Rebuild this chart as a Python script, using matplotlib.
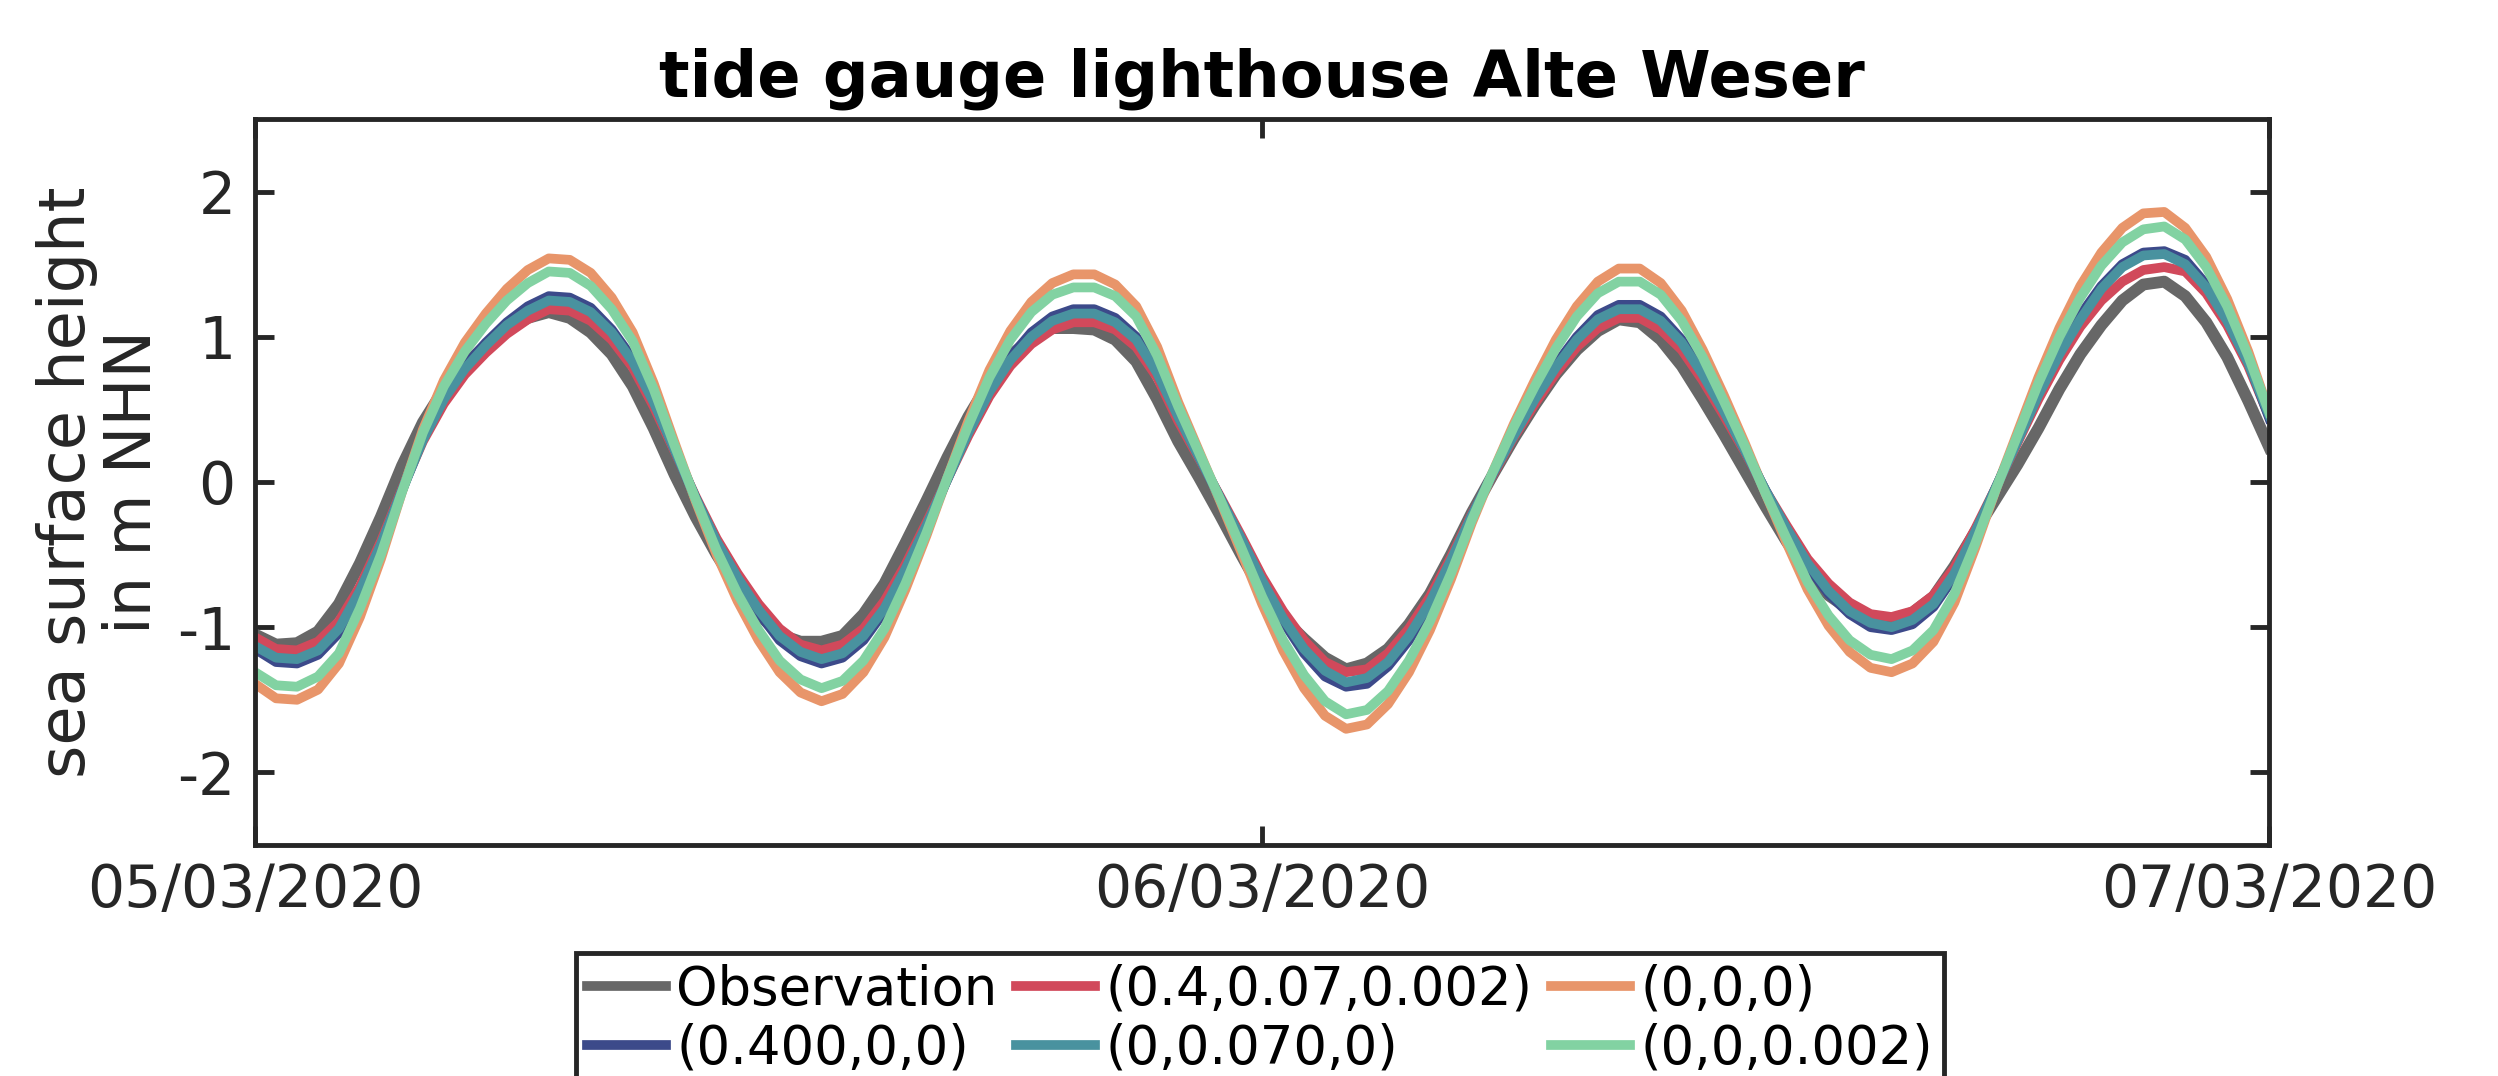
import numpy as np
import pandas as pd
import matplotlib
matplotlib.use("Agg")
import matplotlib.pyplot as plt
import matplotlib.dates as mdates

plt.rcParams['font.family'] = ['DejaVu Sans']
plt.rcParams['axes.unicode_minus'] = False

# half-hourly values, 05/03/2020 00:00 .. 07/03/2020 00:00
times = pd.date_range('2020-03-05 00:00', '2020-03-07 00:00', freq='30min')

observation = [-1.05, -1.12, -1.11, -1.03, -0.84, -0.56, -0.24, 0.11, 0.41, 0.64,
               0.81, 0.94, 1.05, 1.13, 1.17, 1.13, 1.03, 0.88, 0.66, 0.37,
               0.05, -0.24, -0.50, -0.73, -0.91, -1.05, -1.10, -1.10, -1.06, -0.91,
               -0.70, -0.42, -0.13, 0.17, 0.45, 0.69, 0.87, 0.99, 1.06, 1.06,
               1.05, 0.98, 0.83, 0.57, 0.28, 0.03, -0.23, -0.50, -0.76, -0.94,
               -1.08, -1.21, -1.29, -1.25, -1.15, -0.98, -0.77, -0.50, -0.21, 0.05,
               0.30, 0.53, 0.74, 0.91, 1.04, 1.12, 1.10, 0.98, 0.80, 0.57,
               0.33, 0.08, -0.17, -0.41, -0.62, -0.78, -0.88, -0.93, -0.95, -0.90,
               -0.79, -0.58, -0.34, -0.11, 0.12, 0.37, 0.64, 0.88, 1.08, 1.25,
               1.36, 1.38, 1.28, 1.10, 0.86, 0.56, 0.24]
run_all = [-1.07, -1.15, -1.16, -1.10, -0.96, -0.72, -0.41, -0.05, 0.28, 0.54,
           0.74, 0.89, 1.02, 1.12, 1.19, 1.18, 1.11, 0.98, 0.79, 0.52,
           0.21, -0.10, -0.39, -0.63, -0.84, -1.01, -1.12, -1.16, -1.12, -1.01,
           -0.82, -0.57, -0.28, 0.02, 0.32, 0.59, 0.80, 0.95, 1.05, 1.10,
           1.10, 1.05, 0.93, 0.72, 0.42, 0.16, -0.10, -0.37, -0.65, -0.89,
           -1.09, -1.24, -1.31, -1.29, -1.18, -1.01, -0.79, -0.52, -0.22, 0.05,
           0.31, 0.54, 0.75, 0.93, 1.06, 1.13, 1.13, 1.05, 0.91, 0.70,
           0.46, 0.21, -0.06, -0.30, -0.53, -0.70, -0.83, -0.91, -0.93, -0.89,
           -0.78, -0.59, -0.32, -0.03, 0.27, 0.57, 0.84, 1.07, 1.25, 1.38,
           1.46, 1.48, 1.45, 1.30, 1.08, 0.80, 0.45]
run_zero = [-1.39, -1.49, -1.50, -1.43, -1.25, -0.93, -0.53, -0.07, 0.36, 0.70,
            0.96, 1.16, 1.33, 1.46, 1.54, 1.53, 1.44, 1.27, 1.03, 0.68,
            0.27, -0.13, -0.50, -0.82, -1.09, -1.31, -1.45, -1.51, -1.46, -1.31,
            -1.07, -0.74, -0.37, 0.03, 0.42, 0.77, 1.04, 1.24, 1.37, 1.43,
            1.43, 1.36, 1.21, 0.93, 0.55, 0.21, -0.13, -0.48, -0.84, -1.16,
            -1.42, -1.61, -1.70, -1.67, -1.53, -1.31, -1.02, -0.67, -0.28, 0.07,
            0.40, 0.70, 0.98, 1.21, 1.38, 1.47, 1.47, 1.37, 1.18, 0.91,
            0.60, 0.27, -0.08, -0.42, -0.74, -0.99, -1.17, -1.28, -1.31, -1.25,
            -1.10, -0.83, -0.45, -0.04, 0.34, 0.72, 1.06, 1.35, 1.58, 1.75,
            1.85, 1.86, 1.75, 1.55, 1.26, 0.90, 0.48]
run_a = [-1.15, -1.24, -1.25, -1.19, -1.04, -0.77, -0.44, -0.06, 0.30, 0.58,
         0.80, 0.96, 1.10, 1.21, 1.28, 1.27, 1.20, 1.05, 0.85, 0.56,
         0.22, -0.11, -0.42, -0.68, -0.90, -1.09, -1.20, -1.25, -1.21, -1.09,
         -0.89, -0.61, -0.31, 0.02, 0.35, 0.64, 0.86, 1.03, 1.14, 1.19,
         1.19, 1.13, 1.00, 0.77, 0.46, 0.17, -0.11, -0.40, -0.70, -0.96,
         -1.18, -1.34, -1.41, -1.39, -1.27, -1.09, -0.85, -0.56, -0.23, 0.06,
         0.33, 0.58, 0.81, 1.00, 1.15, 1.22, 1.22, 1.14, 0.98, 0.76,
         0.50, 0.22, -0.06, -0.33, -0.58, -0.77, -0.91, -1.00, -1.02, -0.98,
         -0.86, -0.65, -0.35, -0.03, 0.29, 0.61, 0.90, 1.15, 1.35, 1.50,
         1.58, 1.59, 1.53, 1.36, 1.12, 0.83, 0.44]
run_b = [-1.13, -1.21, -1.22, -1.16, -1.01, -0.75, -0.43, -0.06, 0.29, 0.57,
         0.78, 0.94, 1.08, 1.18, 1.25, 1.24, 1.17, 1.03, 0.83, 0.55,
         0.22, -0.11, -0.41, -0.66, -0.88, -1.06, -1.17, -1.22, -1.18, -1.06,
         -0.87, -0.60, -0.30, 0.02, 0.34, 0.62, 0.84, 1.00, 1.11, 1.16,
         1.16, 1.10, 0.98, 0.75, 0.45, 0.17, -0.11, -0.39, -0.68, -0.94,
         -1.15, -1.30, -1.38, -1.35, -1.24, -1.06, -0.83, -0.54, -0.23, 0.06,
         0.32, 0.57, 0.79, 0.98, 1.12, 1.19, 1.19, 1.11, 0.96, 0.74,
         0.49, 0.22, -0.06, -0.32, -0.56, -0.75, -0.89, -0.97, -1.00, -0.95,
         -0.84, -0.63, -0.34, -0.03, 0.28, 0.60, 0.88, 1.12, 1.33, 1.48,
         1.56, 1.57, 1.50, 1.34, 1.11, 0.82, 0.46]
run_c = [-1.31, -1.40, -1.41, -1.34, -1.18, -0.87, -0.50, -0.07, 0.34, 0.66,
         0.90, 1.09, 1.25, 1.37, 1.45, 1.44, 1.35, 1.19, 0.97, 0.64,
         0.25, -0.12, -0.47, -0.77, -1.02, -1.23, -1.36, -1.42, -1.37, -1.23,
         -1.01, -0.70, -0.35, 0.03, 0.39, 0.72, 0.98, 1.17, 1.29, 1.34,
         1.34, 1.28, 1.14, 0.87, 0.52, 0.20, -0.12, -0.45, -0.79, -1.09,
         -1.33, -1.51, -1.60, -1.57, -1.44, -1.23, -0.96, -0.63, -0.26, 0.07,
         0.38, 0.66, 0.92, 1.14, 1.30, 1.38, 1.38, 1.29, 1.11, 0.86,
         0.56, 0.25, -0.08, -0.39, -0.69, -0.92, -1.09, -1.19, -1.22, -1.16,
         -1.02, -0.77, -0.42, -0.04, 0.32, 0.68, 1.00, 1.27, 1.49, 1.65,
         1.74, 1.76, 1.67, 1.48, 1.21, 0.87, 0.48]

labels = ['Observation', '(0.4,0.07,0.002)', '(0,0,0)',
          '(0.400,0,0)', '(0,0.070,0)', '(0,0,0.002)']
colors = ['#676767', '#D1495B', '#E8956A', '#3C4A8A', '#49929F', '#82D2A2']
series = [observation, run_all, run_zero, run_a, run_b, run_c]
xticks = ['2020-03-05', '2020-03-06', '2020-03-07']

dark = '#262626'
fig = plt.figure(figsize=(24.98, 10.76), dpi=100)
ax = fig.add_axes([0.1021, 0.2147, 0.8063, 0.6747])

lines = []
for i, (vals, col, lab) in enumerate(zip(series, colors, labels)):
    lw = 8.5 if i == 0 else 7
    ln, = ax.plot(times, vals, color=col, lw=lw, label=lab,
                  solid_joinstyle='round')
    lines.append(ln)

ax.set_xlim(pd.Timestamp(xticks[0]), pd.Timestamp(xticks[-1]))
ax.set_ylim(-2.5, 2.5)
ax.set_yticks([-2, -1, 0, 1, 2])
ax.set_xticks([pd.Timestamp(d) for d in xticks])
ax.xaxis.set_major_formatter(mdates.DateFormatter('%d/%m/%Y'))

for sp in ax.spines.values():
    sp.set_linewidth(3.5)
    sp.set_color(dark)
ax.tick_params(direction='in', length=14, width=3.5, top=True, right=True,
               labelsize=42, colors=dark)
ax.tick_params(axis='x', pad=12)
ax.tick_params(axis='y', pad=14)

ax.set_title('tide gauge lighthouse Alte Weser', fontsize=46,
             fontweight='bold', pad=16)
fig.text(100 / 2498, 1 - 482 / 1076, 'sea surface height\nin m NHN',
         rotation=90, ha='center', va='center', fontsize=46,
         linespacing=1.1, color=dark)

# matplotlib fills legend columns first, so reorder to get the row layout
order = [0, 3, 1, 4, 2, 5]
leg = fig.legend([lines[i] for i in order], [labels[i] for i in order],
                 loc='upper left', bbox_to_anchor=(576 / 2498, 1 - 953 / 1076),
                 ncol=3, fontsize=38, handlelength=1.5, handletextpad=0.2,
                 columnspacing=0.35, borderpad=0.2, labelspacing=0.13,
                 borderaxespad=0, fancybox=False, framealpha=1,
                 edgecolor=dark)
leg.get_frame().set_linewidth(3.5)
for h in leg.get_lines():
    h.set_linewidth(7)

fig.savefig('out.png', dpi=100)
